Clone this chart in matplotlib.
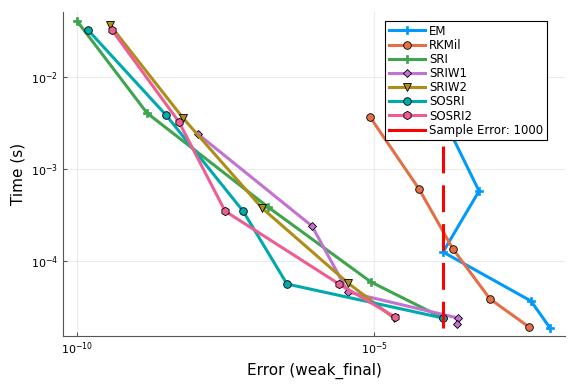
import numpy as np
import matplotlib
matplotlib.use("Agg")
import matplotlib.pyplot as plt
from matplotlib.lines import Line2D

# Data (log10 values)
em_err = [-4.024, -3.232, -3.838, -2.357, -2.037]
em_time = [-2.196, -3.239, -3.902, -4.435, -4.728]

rkmil_err = [-5.067, -4.242, -3.670, -3.047, -2.391]
rkmil_time = [-2.435, -3.217, -3.870, -4.413, -4.717]

sri_err = [-10.0, -8.822, -6.785, -5.051, -3.838]
sri_time = [-1.391, -2.391, -3.413, -4.228, -4.620]

sriw1_err = [-7.963, -6.044, -5.438, -3.586, -3.603]
sriw1_time = [-2.620, -3.620, -4.337, -4.620, -4.685]

sriw2_err = [-9.444, -8.215, -6.886, -5.438, -4.663]
sriw2_time = [-1.435, -2.446, -3.424, -4.239, -4.620]

sosri_err = [-9.815, -8.502, -7.205, -6.465, -3.838]
sosri_time = [-1.489, -2.413, -3.457, -4.250, -4.620]

sosri2_err = [-9.411, -8.283, -7.508, -5.589, -4.646]
sosri2_time = [-1.489, -2.489, -3.457, -4.250, -4.609]

sample_err = -3.838
sample_time_range = [-2.75, -4.728]

series = [
    ("EM", em_err, em_time, "#009AFA", "P"),
    ("RKMil", rkmil_err, rkmil_time, "#E36F47", "o"),
    ("SRI", sri_err, sri_time, "#3EA44E", "P"),
    ("SRIW1", sriw1_err, sriw1_time, "#C371D2", "D"),
    ("SRIW2", sriw2_err, sriw2_time, "#AC8E18", "v"),
    ("SOSRI", sosri_err, sosri_time, "#00A9AD", "o"),
    ("SOSRI2", sosri2_err, sosri2_time, "#ED5E93", "h"),
]

fig = plt.figure(figsize=(5.76, 3.84), dpi=100)
ax = fig.add_axes([63/576, 1-336/384, (565-63)/576, (336-12)/384])

handles = []
for name, ex, ty, col, mk in series:
    x = 10**np.array(ex)
    y = 10**np.array(ty)
    if mk == "P":
        kw = dict(markeredgecolor=col, markeredgewidth=0.5, markersize=6)
    else:
        ms = {"o": 5.5, "D": 4.5, "v": 6, "h": 6}[mk]
        kw = dict(markeredgecolor="black", markeredgewidth=0.6, markersize=ms)
    ln, = ax.plot(x, y, color=col, lw=2.2, marker=mk, markerfacecolor=col, label=name, **kw)
    handles.append(ln)

ax.plot([10**sample_err]*2, 10**np.array(sample_time_range), color="red", lw=2.2,
        ls=(0, (8.8, 3.9)))
handles.append(Line2D([], [], color="red", lw=2.2, label="Sample Error: 1000"))

ax.set_xscale("log")
ax.set_yscale("log")
ax.set_xlim(10**-10.236, 10**-1.785)
ax.set_ylim(10**-4.815, 10**-1.293)
ax.set_xticks([1e-10, 1e-5])
ax.set_yticks([1e-4, 1e-3, 1e-2])
ax.xaxis.set_minor_locator(matplotlib.ticker.NullLocator())
ax.yaxis.set_minor_locator(matplotlib.ticker.NullLocator())
ax.tick_params(direction="in", length=3, labelsize=8, color="#555555")
ax.grid(True, color="#000000", alpha=0.08, lw=0.8)
for s in ["top", "right"]:
    ax.spines[s].set_visible(False)
for s in ["left", "bottom"]:
    ax.spines[s].set_color("#555555")
ax.set_xlabel("Error (weak_final)", fontsize=11)
ax.set_ylabel("Time (s)", fontsize=11)

leg = ax.legend(handles=handles, loc="upper right", fontsize=8.5, frameon=True, fancybox=False,
                edgecolor="black", framealpha=1, handlelength=3.1, borderpad=0.3,
                labelspacing=0.1, handletextpad=0.35, borderaxespad=0.0,
                bbox_to_anchor=(547/576, 1-21/384), bbox_transform=fig.transFigure,
                numpoints=1)
leg.get_frame().set_linewidth(0.8)

fig.savefig("out.png", dpi=100)
